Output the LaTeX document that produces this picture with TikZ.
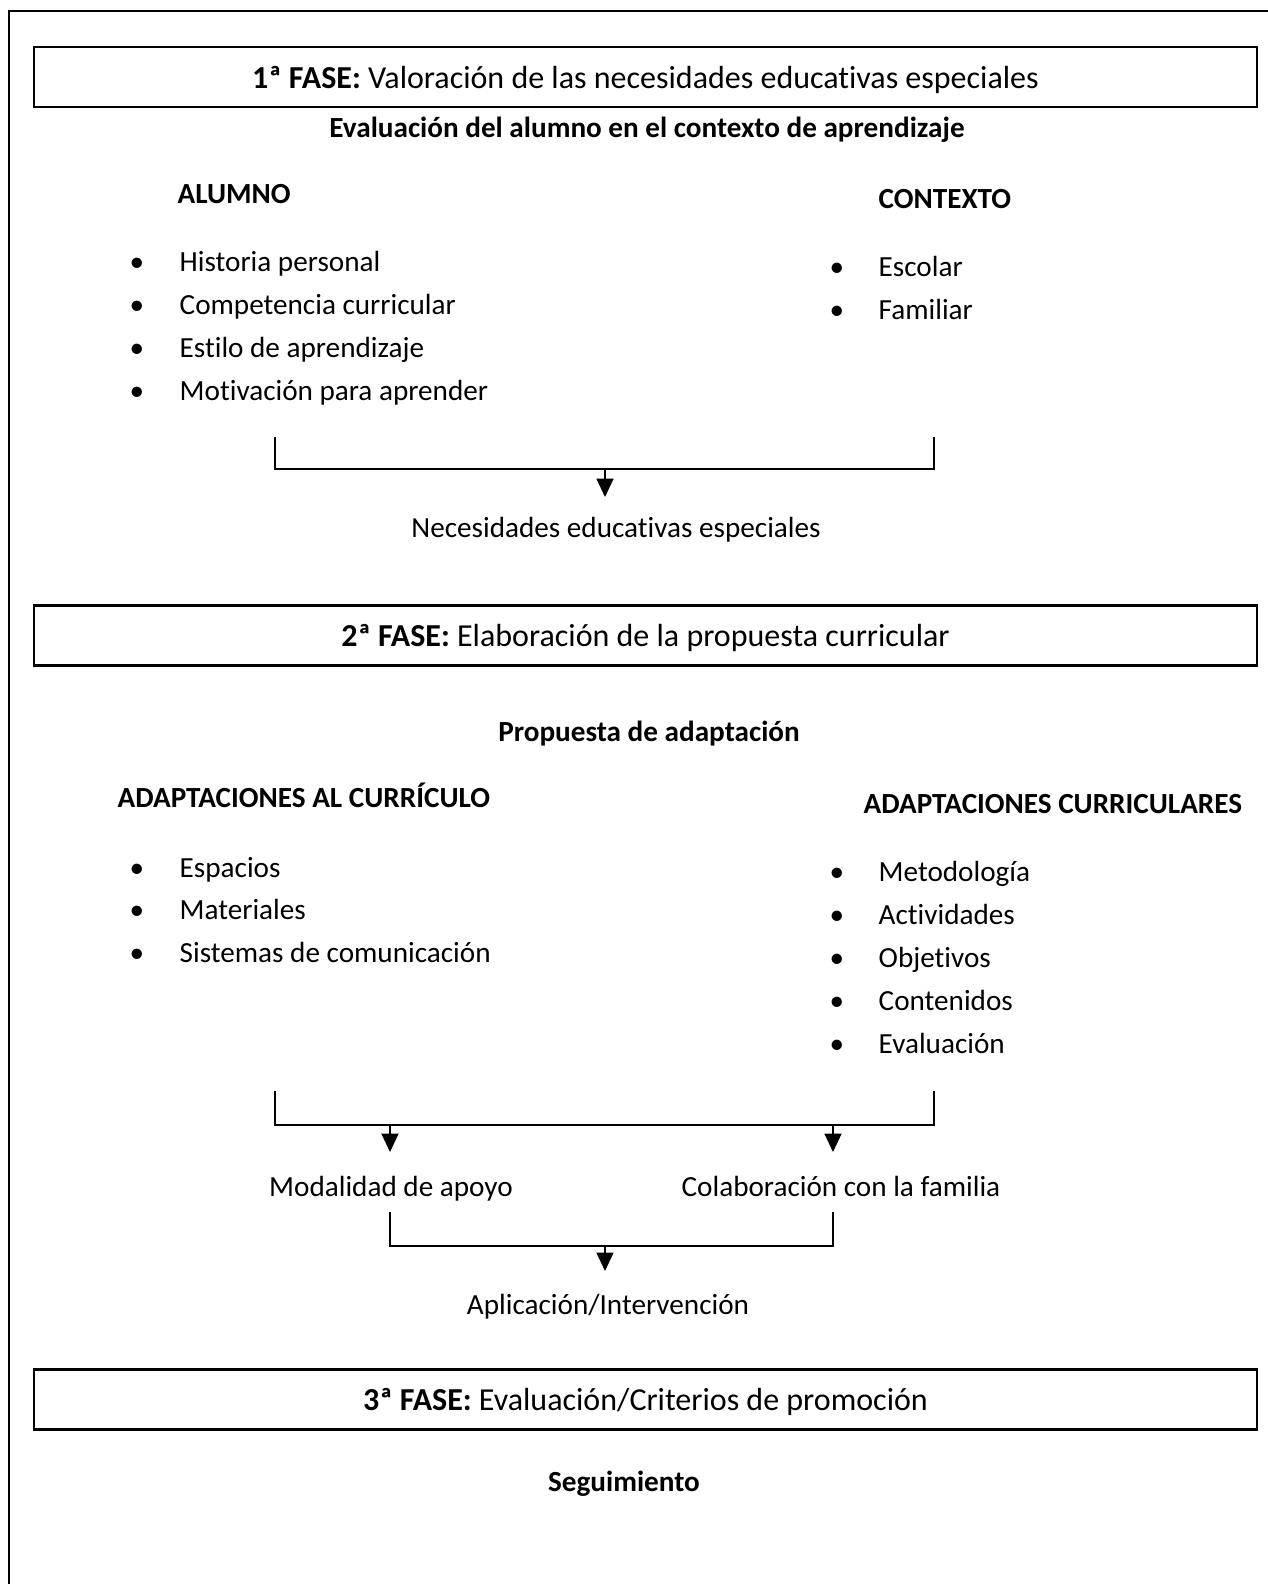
\documentclass[tikz,border=0pt]{standalone}
\usepackage{fontspec}
\setmainfont[Ligatures=NoCommon]{Carlito}
\usetikzlibrary{arrows.meta}

\tikzset{
  txt/.style={inner sep=0pt, text height=0.644em, text depth=0pt},
  bold/.style={txt, font=\fontsize{8.3}{10}\selectfont\bfseries},
  fasebox/.style={draw, line width=0.6pt, minimum width=12.23cm, minimum height=0.6cm,
    text height=0.644em, text depth=0pt, font=\fontsize{9.1}{11}\selectfont},
  arr/.style={line width=0.45pt, -{Triangle[width=4.8pt,length=5.2pt]}},
  brk/.style={line width=0.45pt}
}

\begin{document}
\begin{tikzpicture}[x=0.01cm, y=-0.01cm, font=\fontsize{8.3}{10}\selectfont]
  \useasboundingbox (0,0) rectangle (1268,1584);
  % marco exterior
  \draw[line width=0.5pt] (9,1584) -- (9,11) -- (1268,11);

  % 1a fase
  \node[fasebox] (fase1) at (645.5,77) {\textbf{1ª FASE:} Valoración de las necesidades educativas especiales};
  \node[bold] (eval) at (647,126) {Evaluación del alumno en el contexto de aprendizaje};
  \node[bold, anchor=west] (alumno) at (177,192) {ALUMNO};
  \node[bold, anchor=west] (contexto) at (878,197) {CONTEXTO};
  \foreach \t [count=\i] in {Historia personal, Competencia curricular, Estilo de aprendizaje, Motivación para aprender} {
    \node[txt] (alb\i) at (137,217+43*\i) {•};
    \node[txt, anchor=west] (al\i) at (179,217+43*\i) {\t};
  }
  \foreach \t [count=\i] in {Escolar, Familiar} {
    \node[txt] (cob\i) at (837,222+43*\i) {•};
    \node[txt, anchor=west] (co\i) at (878,222+43*\i) {\t};
  }
  \coordinate (b1l) at (275,437);
  \coordinate (b1r) at (934,437);
  \coordinate (b1m) at (605,469);
  \coordinate (t1) at (605,497);
  \draw[brk] (b1l) |- (b1m) -| (b1r);
  \draw[arr] (b1m) -- (t1);
  \node[txt] (nec) at (616,526) {Necesidades educativas especiales};

  % 2a fase
  \node[fasebox] (fase2) at (645.5,635.5) {\textbf{2ª FASE:} Elaboración de la propuesta curricular};
  \node[bold] (prop) at (649,730) {Propuesta de adaptación};
  \node[bold, anchor=west] (alcurr) at (117,796) {ADAPTACIONES AL CURRÍCULO};
  \node[bold, anchor=west] (adcurr) at (863,802) {ADAPTACIONES CURRICULARES};
  \foreach \t [count=\i] in {Espacios, Materiales, Sistemas de comunicación} {
    \node[txt] (acb\i) at (137,823.5+42.5*\i) {•};
    \node[txt, anchor=west] (ac\i) at (179,823.5+42.5*\i) {\t};
  }
  \foreach \t [count=\i] in {Metodología, Actividades, Objetivos, Contenidos, Evaluación} {
    \node[txt] (adb\i) at (837,827+43*\i) {•};
    \node[txt, anchor=west] (ad\i) at (878,827+43*\i) {\t};
  }
  \coordinate (b2l) at (275,1091);
  \coordinate (b2r) at (934,1091);
  \coordinate (b2a) at (390,1125);
  \coordinate (b2b) at (833,1125);
  \coordinate (t2a) at (390,1152);
  \coordinate (t2b) at (833,1152);
  \draw[brk] (b2l) |- (b2a) -- (b2b) -| (b2r);
  \draw[arr] (b2a) -- (t2a);
  \draw[arr] (b2b) -- (t2b);
  \node[txt] (modal) at (391,1185) {Modalidad de apoyo};
  \node[txt] (colab) at (841,1185) {Colaboración con la familia};
  \coordinate (b3l) at (390,1212);
  \coordinate (b3r) at (833,1212);
  \coordinate (b3m) at (605,1246);
  \coordinate (t3) at (605,1271);
  \draw[brk] (b3l) |- (b3m) -| (b3r);
  \draw[arr] (b3m) -- (t3);
  \node[txt] (aplic) at (608,1303) {Aplicación/Intervención};

  % 3a fase
  \node[fasebox] (fase3) at (645.5,1399.5) {\textbf{3ª FASE:} Evaluación/Criterios de promoción};
  \node[bold] (seg) at (624,1480) {Seguimiento};
\end{tikzpicture}
\end{document}
